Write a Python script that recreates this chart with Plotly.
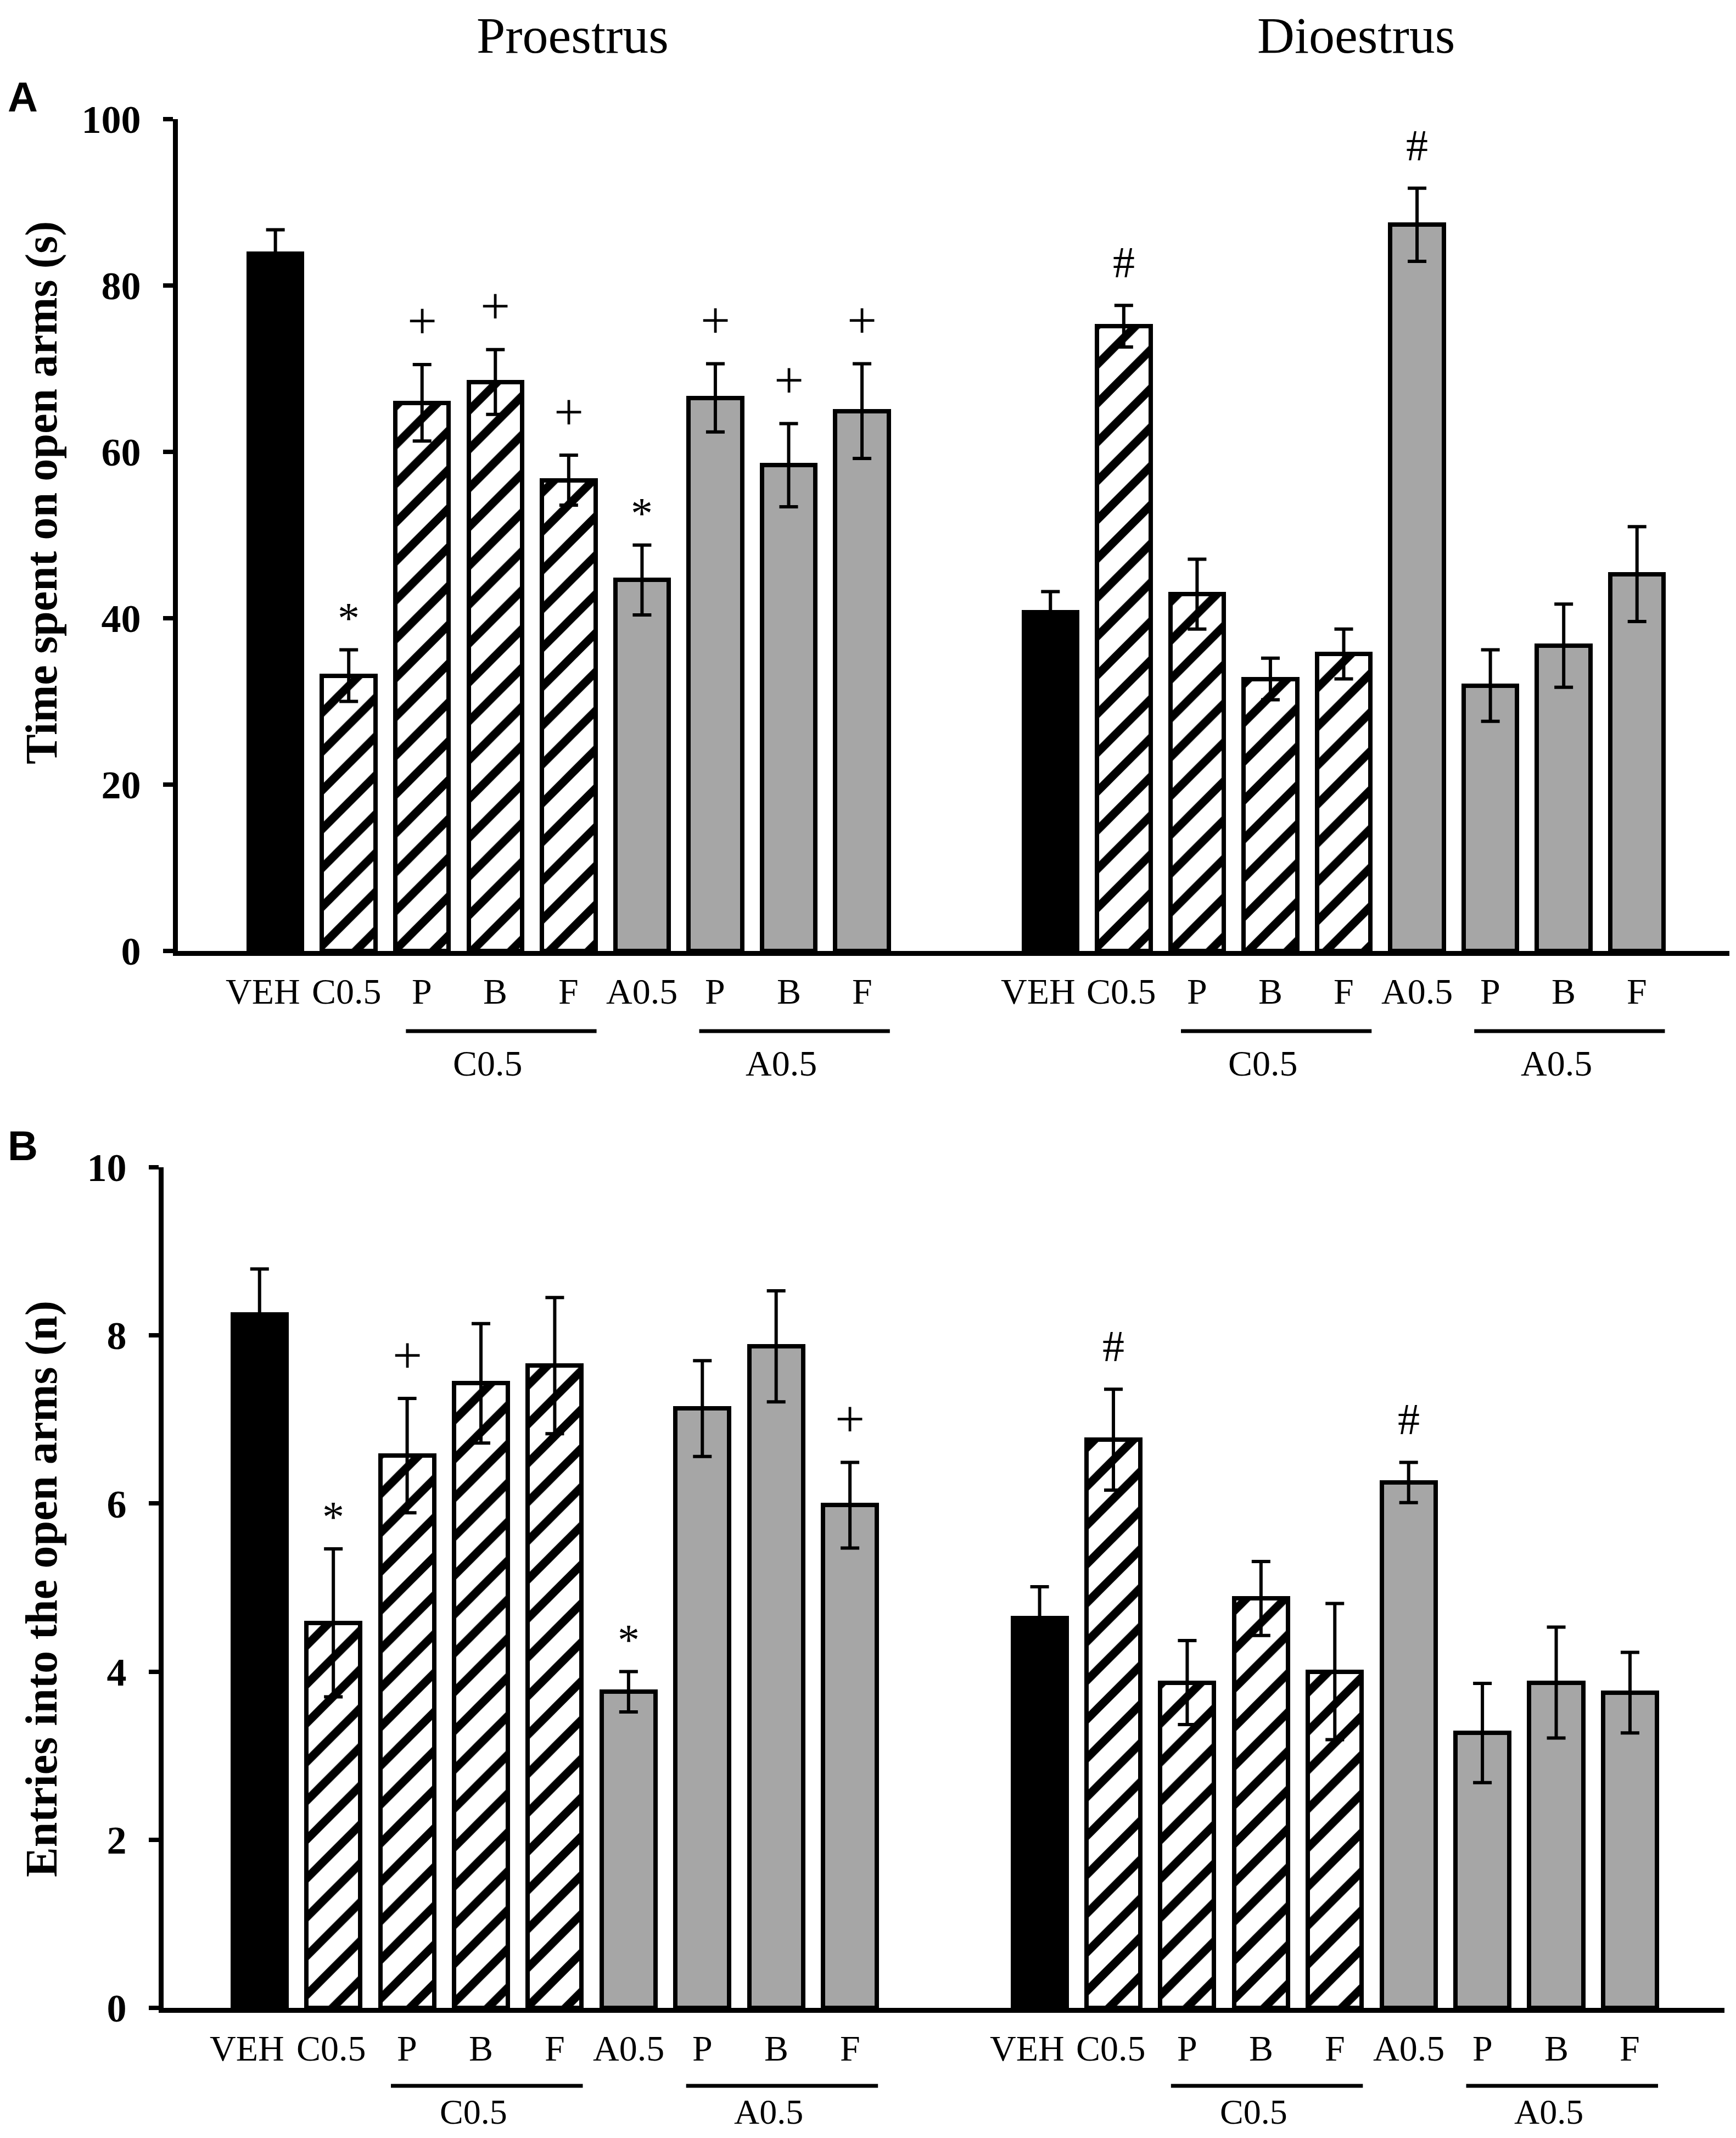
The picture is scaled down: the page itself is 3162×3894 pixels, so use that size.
import plotly.graph_objects as go

# ---------------- data ----------------
categories = ["VEH", "C0.5", "P", "B", "F", "A0.5", "P", "B", "F"]
bar_kind = ["veh", "c", "c", "c", "c", "a", "a", "a", "a"]
phases = ["Proestrus", "Dioestrus"]
group_labels = ["C0.5", "A0.5"]

time_pro = [83.8, 33.1, 65.9, 68.4, 56.6, 44.6, 66.5, 58.4, 64.9]
time_pro_err = [2.9, 3.1, 4.6, 3.9, 3.0, 4.2, 4.1, 5.0, 5.7]
time_dio = [40.7, 75.1, 42.9, 32.7, 35.7, 87.3, 31.9, 36.7, 45.3]
time_dio_err = [2.5, 2.5, 4.2, 2.5, 3.0, 4.4, 4.3, 5.0, 5.7]

entries_pro = [8.25, 4.58, 6.57, 7.43, 7.64, 3.76, 7.13, 7.87, 5.98]
entries_pro_err = [0.54, 0.88, 0.68, 0.71, 0.81, 0.24, 0.57, 0.66, 0.51]
entries_dio = [4.64, 6.76, 3.87, 4.87, 4.00, 6.25, 3.27, 3.87, 3.75]
entries_dio_err = [0.37, 0.60, 0.50, 0.44, 0.81, 0.24, 0.59, 0.66, 0.48]

time_pro_sig = ["", "*", "+", "+", "+", "*", "+", "+", "+"]
time_dio_sig = ["", "#", "", "", "", "#", "", "", ""]
entries_pro_sig = ["", "*", "+", "", "", "*", "", "", "+"]
entries_dio_sig = ["", "#", "", "", "", "#", "", "", ""]

y_ticks_time = [0, 20, 40, 60, 80, 100]
y_ticks_entries = [0, 2, 4, 6, 8, 10]

# ---------------- layout helpers ----------------
PAGE_W, PAGE_H = 3162, 3894
BODY = 8                      # default page margin around the plot div
W, H = PAGE_W - 2 * BODY, PAGE_H - 2 * BODY


def px(xp):
    return (xp - BODY) / W


def py(yp):
    return 1 - (yp - BODY) / H


PHASE_OFFSET = [0.0, 10.57]
BAR_W = 0.73
SERIF = "Liberation Serif, Times New Roman, serif"
SANS = "Liberation Sans, Arial, sans-serif"
GRAY = "#a6a6a6"
LABEL_SHIFT = {"VEH": -0.17, "C0.5": -0.03}
SIG_STYLE = {"*": (80, 58), "+": (96, 80), "#": (80, 78)}  # font size, yshift px

n = len(categories)
xpos = [[i + off for i in range(n)] for off in PHASE_OFFSET]

panels = [
    dict(xa="x", ya="y", vals=[time_pro, time_dio], errs=[time_pro_err, time_dio_err],
         sigs=[time_pro_sig, time_dio_sig], ticks=y_ticks_time, yr=[0, 100],
         xdom=[px(324), px(3150)], xr=[-1.33, 19.83], ydom=[py(1732), py(217)],
         title="Time spent on open arms (s)", title_y=py(898), letter="A", letter_y=py(177),
         line_y=py(1878), glabel_y=py(1936), tick_y=py(1805), glabel_size=66),
    dict(xa="x2", ya="y2", vals=[entries_pro, entries_dio], errs=[entries_pro_err, entries_dio_err],
         sigs=[entries_pro_sig, entries_dio_sig], ticks=y_ticks_entries, yr=[0, 10],
         xdom=[px(298), px(3141)], xr=[-1.30, 19.85], ydom=[py(3657), py(2126)],
         title="Entries into the open arms (n)", title_y=py(2894), letter="B", letter_y=py(2086),
         line_y=py(3799), glabel_y=py(3846), tick_y=py(3730), glabel_size=64),
]

styles = {
    "veh": dict(color="black"),
    "c": dict(color="white", pattern=dict(shape="/", fgcolor="black", bgcolor="white",
                                          size=50, solidity=0.3, fillmode="replace")),
    "a": dict(color=GRAY),
}

fig = go.Figure()
annotations = []
shapes = []

for p in panels:
    for kind in ["veh", "c", "a"]:
        xs, ys, es = [], [], []
        for ph in range(2):
            for i in range(n):
                if bar_kind[i] == kind:
                    xs.append(xpos[ph][i])
                    ys.append(p["vals"][ph][i])
                    es.append(p["errs"][ph][i])
        fig.add_trace(go.Bar(
            x=xs, y=ys, width=BAR_W, xaxis=p["xa"], yaxis=p["ya"],
            marker=dict(line=dict(color="black", width=8), **styles[kind]),
            error_y=dict(type="data", array=es, visible=True, color="black",
                         thickness=6, width=17),
            showlegend=False, hoverinfo="skip",
        ))
    # significance markers
    for ph in range(2):
        for i in range(n):
            s = p["sigs"][ph][i]
            if s:
                fs, ysh = SIG_STYLE[s]
                annotations.append(dict(
                    x=xpos[ph][i], y=p["vals"][ph][i] + p["errs"][ph][i],
                    xref=p["xa"], yref=p["ya"], text=s, showarrow=False,
                    yanchor="middle", yshift=ysh,
                    font=dict(family=SERIF, size=fs, color="black")))
    # category labels
    for ph in range(2):
        for i in range(n):
            annotations.append(dict(
                x=xpos[ph][i] + LABEL_SHIFT.get(categories[i], 0.0), y=p["tick_y"],
                xref=p["xa"], yref="paper",
                text=categories[i], showarrow=False, yanchor="middle",
                font=dict(family=SERIF, size=66, color="black")))
        # group lines & labels
        for g, (i0, i1) in enumerate([(2, 4), (6, 8)]):
            shapes.append(dict(type="line", xref=p["xa"], yref="paper",
                               x0=xpos[ph][i0] - 0.22, x1=xpos[ph][i1] + 0.38,
                               y0=p["line_y"], y1=p["line_y"],
                               line=dict(color="black", width=7)))
            annotations.append(dict(
                x=(xpos[ph][i0] + xpos[ph][i1]) / 2 - 0.1, y=p["glabel_y"],
                xref=p["xa"], yref="paper", text=group_labels[g], showarrow=False,
                yanchor="middle", font=dict(family=SERIF, size=p["glabel_size"], color="black")))
    # y axis title
    annotations.append(dict(x=px(75), y=p["title_y"], xref="paper", yref="paper",
                            text=p["title"], textangle=-90, showarrow=False,
                            xanchor="center", yanchor="middle",
                            font=dict(family=SERIF, size=82, color="black", weight="bold")))
    # panel letter
    annotations.append(dict(x=px(41), y=p["letter_y"], xref="paper", yref="paper",
                            text=p["letter"], showarrow=False, xanchor="center", yanchor="middle",
                            font=dict(family=SANS, size=76, color="black", weight="bold")))

# phase titles (kept fully inside the top edge)
for ph, name in enumerate(phases):
    annotations.append(dict(x=[px(1043), px(2470)][ph], y=1.0, xref="paper", yref="paper",
                            text=name, showarrow=False, xanchor="center", yanchor="top",
                            yshift=-2,
                            font=dict(family=SERIF, size=94, color="black")))

axis_common = dict(showgrid=False, zeroline=False, showline=True, linecolor="black",
                   linewidth=9, automargin=False)
fig.update_layout(
    template="none",
    width=W, height=H, margin=dict(l=0, r=0, t=0, b=0, pad=0, autoexpand=False),
    paper_bgcolor="white", plot_bgcolor="white",
    barmode="overlay", bargap=0, showlegend=False,
    annotations=annotations, shapes=shapes,
)
for k, p in enumerate(panels):
    sx = "" if k == 0 else "2"
    fig.update_layout(**{
        "xaxis" + sx: dict(domain=p["xdom"], range=p["xr"], anchor=p["ya"],
                           showticklabels=False, ticks="", **axis_common),
        "yaxis" + sx: dict(domain=p["ydom"], range=p["yr"], anchor=p["xa"],
                           tickvals=p["ticks"], ticks="outside", ticklen=18, tickwidth=8,
                           tickcolor="black", ticklabelstandoff=26,
                           tickfont=dict(family=SERIF, size=72, color="black", weight="bold"),
                           **axis_common),
    })

fig.write_html("out.html")
